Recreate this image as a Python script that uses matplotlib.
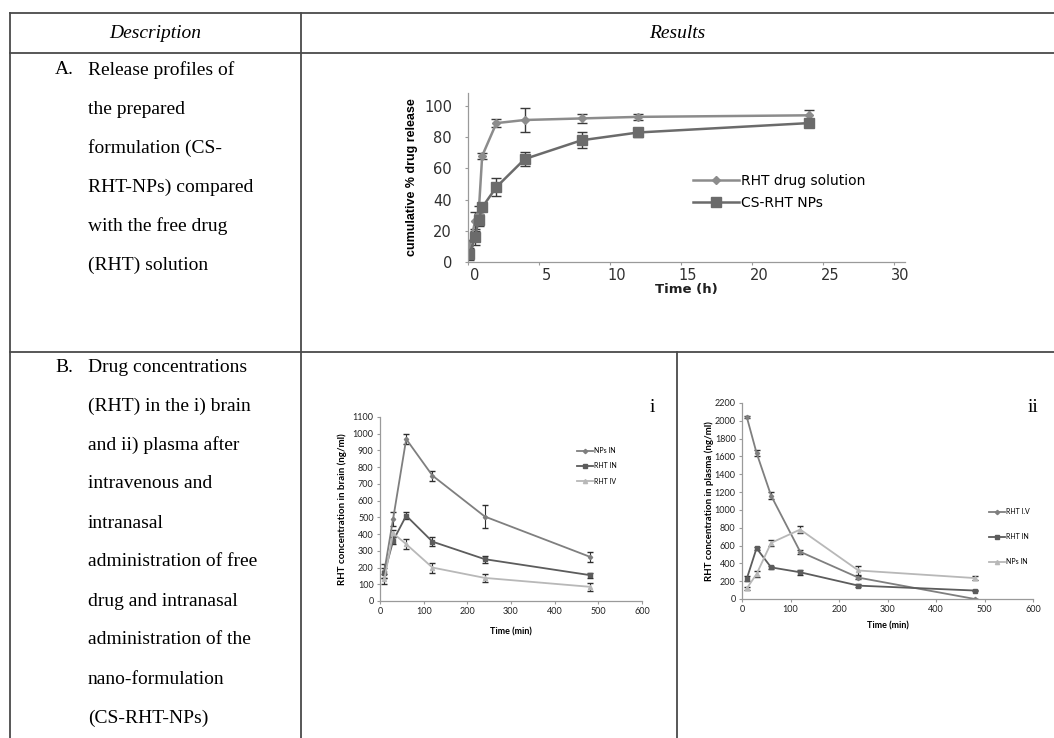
import numpy as np
import matplotlib.pyplot as plt
from matplotlib.lines import Line2D
from matplotlib.transforms import ScaledTranslation

W, H = 1054, 738

# ---------------- data ----------------
header = ['Description', 'Results']
desc_a = ['A.  Release profiles of', 'the prepared', 'formulation (CS-',
          'RHT-NPs) compared', 'with the free drug', '(RHT) solution']
desc_b = ['B.  Drug concentrations', '(RHT) in the i) brain', 'and ii) plasma after',
          'intravenous and', 'intranasal', 'administration of free',
          'drug and intranasal', 'administration of the', 'nano-formulation',
          '(CS-RHT-NPs)']

# A: release profiles
rel_t = [0.1, 0.5, 0.75, 1, 2, 4, 8, 12, 24]
sol_rel = [10, 26, 31, 68, 89, 91, 92, 93, 94]
sol_err = [4, 6, 5, 2, 2.5, 8, 3, 2, 3.5]
nps_rel = [5, 16, 27, 35, 48, 66, 78, 83, 89]
nps_err = [4, 5, 4, 2, 6, 4.5, 5, 3, 2.5]

# B i: brain
pk_t = [10, 30, 60, 120, 240, 480]
brain_nps_in = [180, 490, 968, 750, 505, 265]
brain_nps_in_err = [40, 40, 30, 30, 70, 30]
brain_rht_in = [165, 360, 510, 355, 250, 155]
brain_rht_in_err = [30, 20, 20, 25, 20, 15]
brain_rht_iv = [130, 405, 340, 200, 138, 85]
brain_rht_iv_err = [30, 20, 30, 30, 25, 25]

# B ii: plasma
plasma_rht_iv = [2040, 1640, 1160, 530, 240, 0]
plasma_rht_iv_err = [10, 30, 40, 20, 15, 5]
plasma_rht_in = [230, 570, 355, 300, 150, 95]
plasma_rht_in_err = [30, 15, 20, 25, 15, 10]
plasma_nps_in = [120, 280, 630, 780, 320, 235]
plasma_nps_in_err = [20, 30, 30, 40, 50, 25]

fig = plt.figure(figsize=(W / 100, H / 100), dpi=100)


def box(x0, y0, x1, y1):
    return fig.add_axes([x0 / W, 1 - y1 / H, (x1 - x0) / W, (y1 - y0) / H])


def line(x0, y0, x1, y1):
    fig.add_artist(Line2D([x0 / W, x1 / W], [1 - y0 / H, 1 - y1 / H],
                          transform=fig.transFigure, color='#4a4a4a', lw=1.3))


def ftext(x, y, s, **kw):
    fig.text(x / W, 1 - y / H, s, **kw)


# ---------------- table ----------------
line(10, 13, W, 13)
line(10, 53, W, 53)
line(10, 352, W, 352)
line(10, 13, 10, H)
line(301, 13, 301, H)
line(677, 352, 677, H)

serif = 'Liberation Serif'
ftext(155, 33, header[0], family=serif, style='italic', fontsize=14, ha='center', va='center')
ftext(677, 33, header[1], family=serif, style='italic', fontsize=14, ha='center', va='center')

for i, s in enumerate(desc_a):
    if i == 0:
        ftext(55, 70, s[:2], family=serif, fontsize=14, va='center')
        ftext(88, 70, s[4:], family=serif, fontsize=14, va='center')
    else:
        ftext(88, 70 + 39 * i, s, family=serif, fontsize=14, va='center')

for i, s in enumerate(desc_b):
    if i == 0:
        ftext(55, 367, s[:2], family=serif, fontsize=14, va='center')
        ftext(88, 367, s[4:], family=serif, fontsize=14, va='center')
    else:
        ftext(88, 367 + 39 * i, s, family=serif, fontsize=14, va='center')


def style_axes(ax, size, color):
    for sp in ['top', 'right']:
        ax.spines[sp].set_visible(False)
    for sp in ['left', 'bottom']:
        ax.spines[sp].set_color('#9a9a9a')
        ax.spines[sp].set_linewidth(0.9)
    ax.tick_params(length=2.5, width=0.8, color='#9a9a9a', labelsize=size,
                   labelcolor=color, pad=2)
    ax.patch.set_alpha(0)


# ---------------- chart A ----------------
axA = box(468, 93, 905, 262)
ea = axA.errorbar(rel_t, sol_rel, yerr=sol_err, color='#8c8c8c', marker='D', ms=4,
                  lw=1.8, ecolor='#3a3a3a', elinewidth=1, capsize=3.5)
eb = axA.errorbar(rel_t, nps_rel, yerr=nps_err, color='#6b6b6b', marker='s', ms=6.5,
                  lw=1.8, ecolor='#3a3a3a', elinewidth=1, capsize=3.5)
axA.set_xlim(0, 30.8)
axA.set_ylim(0, 108.3)
axA.set_xticks(range(0, 31, 5))
axA.set_yticks(range(0, 101, 20))
style_axes(axA, 10.5, '#303030')
axA.tick_params(axis='y', pad=9)
for lab in axA.get_xticklabels():
    lab.set_transform(lab.get_transform() + ScaledTranslation(0.07, 0, fig.dpi_scale_trans))
axA.set_xlabel('Time (h)', fontsize=9.5, fontweight='bold', labelpad=0, color='#202020')
axA.set_ylabel('cumulative % drug release', fontsize=9, fontweight='bold',
               family='Liberation Sans', labelpad=4)
axA.legend([ea[0], eb[0]], ['RHT drug solution', 'CS-RHT NPs'],
           loc='upper left', bbox_to_anchor=(693 / W, 1 - 174 / H),
           bbox_transform=fig.transFigure, frameon=False, fontsize=10,
           handlelength=3.3, handletextpad=0.15, labelspacing=0.55,
           borderpad=0, borderaxespad=0)

# ---------------- chart B i ----------------
calib = ['Lato', 'DejaVu Sans']
axB1 = box(380, 417, 642, 601)
b1 = axB1.errorbar(pk_t, brain_nps_in, yerr=brain_nps_in_err, color='#7f7f7f', marker='D',
                   ms=2.2, lw=1.3, ecolor='#2e2e2e', elinewidth=0.8, capsize=2)
b2 = axB1.errorbar(pk_t, brain_rht_in, yerr=brain_rht_in_err, color='#5c5c5c', marker='s',
                   ms=3.5, lw=1.3, ecolor='#2e2e2e', elinewidth=0.8, capsize=2)
b3 = axB1.errorbar(pk_t, brain_rht_iv, yerr=brain_rht_iv_err, color='#b8b8b8', marker='^',
                   ms=3, lw=1.3, ecolor='#2e2e2e', elinewidth=0.8, capsize=2)
axB1.set_xlim(0, 600)
axB1.set_ylim(0, 1100)
axB1.set_xticks(range(0, 601, 100))
axB1.set_yticks(range(0, 1101, 100))
style_axes(axB1, 6.5, '#222222')
for lab in axB1.get_xticklabels() + axB1.get_yticklabels():
    lab.set_family(calib)
axB1.set_xlabel('Time (min)', fontsize=6.5, fontweight='bold', family=calib, labelpad=8)
axB1.set_ylabel('RHT concentration in brain (ng/ml)', fontsize=7, fontweight='bold',
                family=calib, labelpad=4)
axB1.legend([b1[0], b2[0], b3[0]], ['NPs IN', 'RHT IN', 'RHT IV'],
            loc='upper left', bbox_to_anchor=(577 / W, 1 - 447 / H),
            bbox_transform=fig.transFigure, frameon=False,
            prop={'family': calib, 'size': 5}, handlelength=2.3, handletextpad=0.2,
            labelspacing=1.2, borderpad=0, borderaxespad=0)
ftext(652, 408, 'i', family=serif, fontsize=14, ha='center', va='center')

# ---------------- chart B ii ----------------
axB2 = box(742, 403, 1033, 599)
c1 = axB2.errorbar(pk_t, plasma_rht_iv, yerr=plasma_rht_iv_err, color='#7f7f7f', marker='D',
                   ms=2.2, lw=1.3, ecolor='#2e2e2e', elinewidth=0.8, capsize=2)
c2 = axB2.errorbar(pk_t, plasma_rht_in, yerr=plasma_rht_in_err, color='#5c5c5c', marker='s',
                   ms=3.5, lw=1.3, ecolor='#2e2e2e', elinewidth=0.8, capsize=2)
c3 = axB2.errorbar(pk_t, plasma_nps_in, yerr=plasma_nps_in_err, color='#b8b8b8', marker='^',
                   ms=3, lw=1.3, ecolor='#2e2e2e', elinewidth=0.8, capsize=2)
axB2.set_xlim(0, 600)
axB2.set_ylim(0, 2200)
axB2.set_xticks(range(0, 601, 100))
axB2.set_yticks(range(0, 2201, 200))
style_axes(axB2, 6.5, '#222222')
for lab in axB2.get_xticklabels() + axB2.get_yticklabels():
    lab.set_family(calib)
axB2.set_xlabel('Time (min)', fontsize=6.5, fontweight='bold', family=calib, labelpad=5.5)
axB2.set_ylabel('RHT concentration in plasma (ng/ml)', fontsize=7, fontweight='bold',
                family=calib, labelpad=0.5)
axB2.legend([c1[0], c2[0], c3[0]], ['RHT I.V', 'RHT IN', 'NPs IN'],
            loc='upper left', bbox_to_anchor=(989 / W, 1 - 508 / H),
            bbox_transform=fig.transFigure, frameon=False,
            prop={'family': calib, 'size': 5}, handlelength=2.3, handletextpad=0.2,
            labelspacing=2.6, borderpad=0, borderaxespad=0)
ftext(1033, 408, 'ii', family=serif, fontsize=14, ha='center', va='center')

fig.savefig('out.png', dpi=100)
